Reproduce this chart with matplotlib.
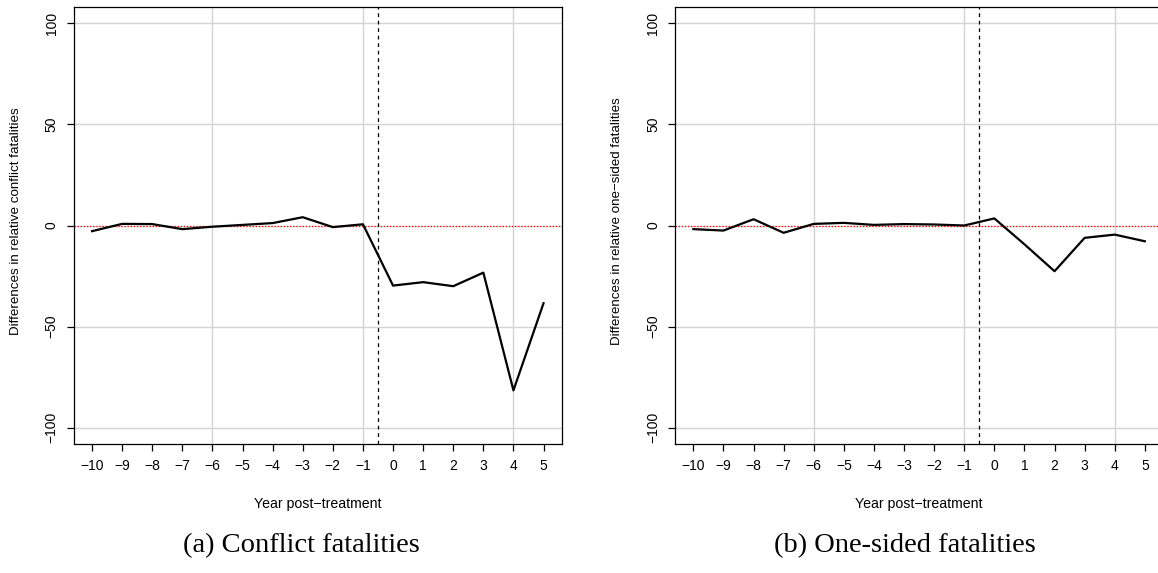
import matplotlib
matplotlib.use("Agg")
import matplotlib.pyplot as plt

# Event-study differences by year relative to treatment
years = [-10, -9, -8, -7, -6, -5, -4, -3, -2, -1, 0, 1, 2, 3, 4, 5]
conflict_diff = [-2.8, 0.8, 0.7, -1.8, -0.6, 0.3, 1.2, 4.1, -0.8, 0.6,
                 -29.7, -28.0, -30.0, -23.3, -81.5, -38.4]
onesided_diff = [-1.8, -2.5, 3.1, -3.6, 0.8, 1.3, 0.3, 0.7, 0.5, 0.0,
                 3.5, -9.3, -22.6, -6.1, -4.5, -7.8]
y_ticks = [-100, -50, 0, 50, 100]
grid_x = [-6, -1, 4]
grid_y = [-100, -50, 0, 50, 100]

panels = [
    ("Differences in relative conflict fatalities", conflict_diff, "(a) Conflict fatalities"),
    ("Differences in relative one\u2212sided fatalities", onesided_diff, "(b) One-sided fatalities"),
]

W, H = 1158, 573
fig = plt.figure(figsize=(W / 100, H / 100), dpi=100)
sans = ["Liberation Sans", "DejaVu Sans"]
serif = ["Liberation Serif", "DejaVu Serif"]

ax_left_px = [74, 675.3]
ax_w_px = 487.6
ax_top_px, ax_bot_px = 7, 444
caption_x_px = [301.5, 904.5]

for i, (ylab, vals, caption) in enumerate(panels):
    l = ax_left_px[i]
    ax = fig.add_axes([l / W, 1 - ax_bot_px / H, ax_w_px / W, (ax_bot_px - ax_top_px) / H])
    ax.set_xlim(-10.6, 5.6)
    ax.set_ylim(-108, 108)

    for gx in grid_x:
        ax.axvline(gx, color="#d3d3d3", lw=1.0, zorder=1)
    for gy in grid_y:
        ax.axhline(gy, color="#d3d3d3", lw=1.0, zorder=1)

    ax.axhline(0, color="red", lw=0.9, ls=(0, (1, 1.5)), zorder=2)
    ax.axvline(-0.5, color="black", lw=0.9, ls=(0, (3, 3)), zorder=2)
    ax.plot(years, vals, color="black", lw=1.6, zorder=3)

    ax.set_xticks(years)
    ax.set_xticklabels([str(y).replace("-", "\u2212") for y in years])
    ax.set_yticks(y_ticks)
    ax.set_yticklabels([str(y).replace("-", "\u2212") for y in y_ticks],
                       rotation=90, va="center")
    ax.tick_params(direction="out", length=5, width=0.9, labelsize=10, pad=5.5)
    ax.tick_params(axis="y", pad=6)
    for lab in ax.get_xticklabels() + ax.get_yticklabels():
        lab.set_family(sans)
    for sp in ax.spines.values():
        sp.set_linewidth(0.9)

    fig.text((l - 58) / W, 1 - 221 / H, ylab, rotation=90, ha="center", va="center",
             fontsize=9.6, family=sans)
    fig.text((l + ax_w_px / 2) / W, 1 - 504 / H, "Year post\u2212treatment",
             ha="center", va="center", fontsize=10.2, family=sans)
    fig.text(caption_x_px[i] / W, 1 - 546 / H, caption, ha="center", va="center",
             fontsize=20.5, family=serif)

fig.savefig("out.png", dpi=100)
